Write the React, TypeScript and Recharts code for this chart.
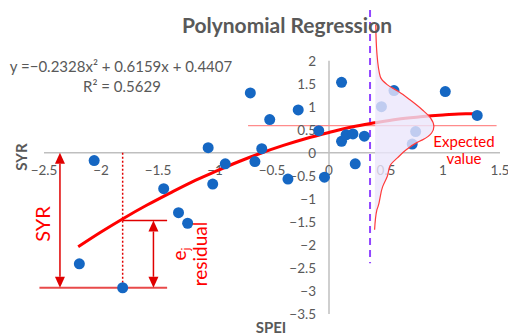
import { ScatterChart, Scatter, XAxis, YAxis, ReferenceLine } from "recharts";

const spei = [-2.19, -2.06, -1.81, -1.45, -1.32, -1.24, -1.06, -1.02, -0.91, -0.69, -0.65, -0.59, -0.52, -0.36, -0.27, -0.09, -0.04, 0.11, 0.11, 0.15, 0.21, 0.23, 0.31, 0.46, 0.57, 0.73, 0.76, 1.02, 1.3];
const syr = [-2.41, -0.17, -2.93, -0.78, -1.3, -1.53, 0.11, -0.68, -0.24, 1.3, -0.19, 0.09, 0.72, -0.57, 0.93, 0.48, -0.53, 1.53, 0.25, 0.39, 0.41, -0.24, 0.36, 1.0, 1.35, 0.19, 0.46, 1.33, 0.81];

// fitted polynomial curve
const trendX = [-2.2, -2.0, -1.8, -1.6, -1.4, -1.2, -1.0, -0.8, -0.6, -0.4, -0.2, 0, 0.2, 0.4, 0.6, 0.8, 1.0, 1.2, 1.3];
const trendY = [-2.04, -1.72, -1.42, -1.14, -0.88, -0.63, -0.41, -0.2, -0.01, 0.16, 0.31, 0.44, 0.56, 0.65, 0.73, 0.78, 0.82, 0.85, 0.85];

// sideways distribution drawn at SPEI = 0.40
const distX = [0.41, 0.42, 0.45, 0.51, 0.61, 0.71, 0.82, 0.89, 0.92, 0.9, 0.82, 0.77, 0.68, 0.6, 0.54, 0.51, 0.47, 0.43, 0.42, 0.4];
const distY = [2.78, 2.17, 1.65, 1.48, 1.33, 1.15, 0.93, 0.76, 0.57, 0.43, 0.28, 0.22, 0.07, -0.11, -0.26, -0.52, -0.74, -1.17, -1.24, -1.67];

const xTicks = [-2.5, -2, -1.5, -1, -0.5, 0, 0.5, 1, 1.5];
const yTicks = [2, 1.5, 1, 0.5, 0, -0.5, -1, -1.5, -2, -2.5, -3, -3.5];

const points = spei.map((x, i) => ({ x, y: syr[i] }));
const trend = trendX.map((x, i) => ({ x, y: trendY[i] }));
const dist = distX.map((x, i) => ({ x, y: distY[i] }));
const xTickData = xTicks.map((x) => ({ x, y: 0 }));
const yTickData = yTicks.map((y) => ({ x: 0, y }));

const GRAY = "#595959";
const FONT = "Lato, 'Open Sans', sans-serif";
const fmt = (v: number) => String(v).replace("-", "\u2212");

const None = () => <g />;

function DoubleArrow(props: any) {
  const { x1, y1, y2, stroke } = props;
  const top = Math.min(y1, y2);
  const bot = Math.max(y1, y2);
  const h = 11;
  const w = 5;
  return (
    <g>
      <line x1={x1} y1={top + h} x2={x1} y2={bot - h} stroke={stroke} strokeWidth={1.5} />
      <polygon points={`${x1},${top} ${x1 - w},${top + h} ${x1 + w},${top + h}`} fill={stroke} />
      <polygon points={`${x1},${bot} ${x1 - w},${bot - h} ${x1 + w},${bot - h}`} fill={stroke} />
    </g>
  );
}

export default function App() {
  return (
    <div style={{ position: "absolute", left: 0, top: 0, width: 508, height: 336, background: "#fff", overflow: "hidden" }}>
      <ScatterChart width={508} height={336} margin={{ top: 10, right: 8, bottom: 22, left: 44 }}>
        <XAxis type="number" dataKey="x" domain={[-2.5, 1.5]} hide />
        <YAxis type="number" dataKey="y" domain={[-3.5, 3.1]} hide />

        <ReferenceLine segment={[{ x: -2.5, y: 0 }, { x: 1.5, y: 0 }]} stroke="#bfbfbf" strokeWidth={1.5} ifOverflow="visible" />
        <ReferenceLine segment={[{ x: 0, y: -3.5 }, { x: 0, y: 2 }]} stroke="#bfbfbf" strokeWidth={1.5} ifOverflow="visible" />

        <ReferenceLine segment={[{ x: -1.81, y: 0 }, { x: -1.81, y: -2.93 }]} stroke="#e00000" strokeWidth={1.5} strokeDasharray="2 2" ifOverflow="visible" />
        <ReferenceLine segment={[{ x: -2.54, y: -2.93 }, { x: -1.42, y: -2.93 }]} stroke="#e84a4a" strokeWidth={2} ifOverflow="visible" />
        <ReferenceLine segment={[{ x: -1.81, y: -1.47 }, { x: -1.42, y: -1.47 }]} stroke="#e00000" strokeWidth={1.3} ifOverflow="visible" />

        <Scatter
          data={xTickData}
          isAnimationActive={false}
          shape={(p: any) => (
            <text x={p.cx} y={p.cy + 22} textAnchor="middle" fontSize={13.5} fill={GRAY} fontFamily={FONT}>
              {fmt(p.payload.x)}
            </text>
          )}
        />
        <Scatter
          data={yTickData}
          isAnimationActive={false}
          shape={(p: any) => (
            <text x={p.cx - 13} y={p.cy + 5} textAnchor="end" fontSize={13.5} fill={GRAY} fontFamily={FONT}>
              {fmt(p.payload.y)}
            </text>
          )}
        />

        <Scatter data={trend} isAnimationActive={false} shape={None} line={{ stroke: "#ff0000", strokeWidth: 3 }} lineJointType="monotoneX" />

        <Scatter
          data={points}
          isAnimationActive={false}
          shape={(p: any) => <circle cx={p.cx} cy={p.cy} r={5.5} fill="#1567c3" />}
        />

        <Scatter
          data={dist}
          isAnimationActive={false}
          shape={None}
          line={{ stroke: "#ff3a3a", strokeWidth: 1.2, fill: "#ebe6fb", fillOpacity: 0.8 }}
          lineJointType="monotoneY"
        />

        <ReferenceLine segment={[{ x: -0.71, y: 0.59 }, { x: 1.47, y: 0.59 }]} stroke="#ff8c8c" strokeWidth={1.3} ifOverflow="visible" />
        <ReferenceLine segment={[{ x: 0.36, y: 3.1 }, { x: 0.36, y: -2.4 }]} stroke="#9146ff" strokeWidth={2} strokeDasharray="7 5" ifOverflow="visible" />

        <ReferenceLine segment={[{ x: -2.36, y: 0 }, { x: -2.36, y: -2.93 }]} stroke="#e00000" ifOverflow="visible" shape={DoubleArrow} />
        <ReferenceLine segment={[{ x: -1.54, y: -1.47 }, { x: -1.54, y: -2.93 }]} stroke="#e00000" ifOverflow="visible" shape={DoubleArrow} />
      </ScatterChart>

      <svg width={508} height={336} style={{ position: "absolute", left: 0, top: 0, pointerEvents: "none" }} fontFamily={FONT}>
        <text x={287} y={33} textAnchor="middle" fontSize={21} fontWeight={700} fill={GRAY}>Polynomial Regression</text>
        <text x={121} y={72} textAnchor="middle" fontSize={15} fill={GRAY}>{"y =\u22120.2328x\u00b2 + 0.6159x + 0.4407"}</text>
        <text x={122} y={92} textAnchor="middle" fontSize={15} fill={GRAY}>{"R\u00b2 = 0.5629"}</text>
        <text x={27} y={157} textAnchor="middle" fontSize={15} fontWeight={700} fill={GRAY} transform="rotate(-90 27 157)">SYR</text>
        <text x={271} y={333} textAnchor="middle" fontSize={15} fontWeight={700} fill={GRAY}>SPEI</text>
        <text x={50} y={224} textAnchor="middle" fontSize={20} fill="#ff0000" transform="rotate(-90 50 224)">SYR</text>
        <g transform="rotate(-90 186 254)" fill="#ff0000" fontSize={19}>
          <text x={186} y={254} textAnchor="middle">
            e<tspan fontSize={12} dy={4}>j</tspan>
          </text>
          <text x={186} y={275} textAnchor="middle">residual</text>
        </g>
        <text x={464} y={147} textAnchor="middle" fontSize={15} fill="#ff0000">Expected</text>
        <text x={464} y={164} textAnchor="middle" fontSize={15} fill="#ff0000">value</text>
      </svg>
    </div>
  );
}
